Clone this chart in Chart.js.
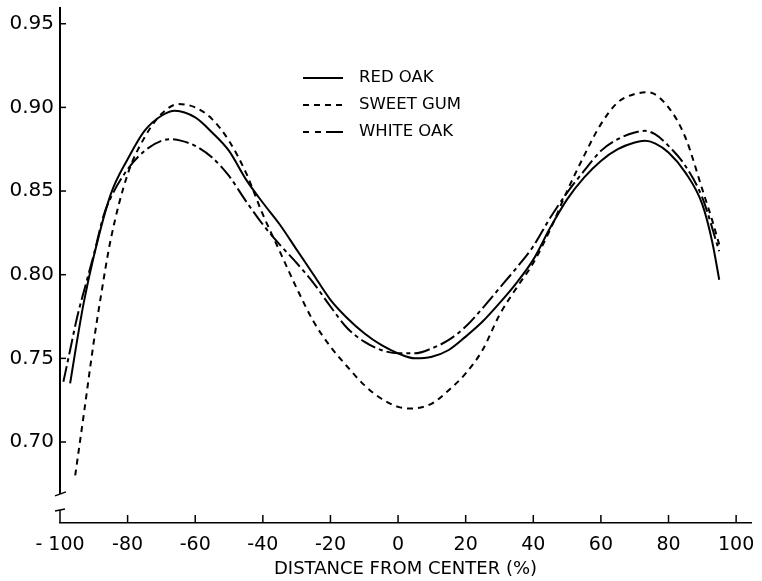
<!DOCTYPE html>
<html><head><meta charset="utf-8">
<script src="https://cdn.jsdelivr.net/npm/chart.js@4/dist/chart.umd.min.js"></script>
<style>html,body{margin:0;padding:0;background:#fff;}#wrap{width:762px;height:581px;}</style>
</head><body><div id="wrap"><canvas id="c" width="762" height="581"></canvas></div>
<script>
// ---- data ----
const seriesNames = ["RED OAK", "SWEET GUM", "WHITE OAK"];

const redOakX = [-97,-95,-93,-90,-85,-80,-75,-70,-66,-60,-55,-50,-45,-40,-35,-30,-25,-20,-15,-10,-5,0,5,10,15,20,25,30,35,40,45,50,55,60,65,70,73,76,80,85,90,93,95];
const redOakY = [0.735,0.760,0.783,0.811,0.848,0.869,0.886,0.895,0.898,0.894,0.885,0.874,0.857,0.843,0.830,0.815,0.800,0.785,0.774,0.765,0.758,0.753,0.750,0.751,0.755,0.763,0.772,0.783,0.795,0.809,0.828,0.845,0.858,0.868,0.875,0.879,0.880,0.8785,0.873,0.861,0.842,0.819,0.797];

const sweetGumX = [-95.5,-93,-90,-88,-85,-80,-75,-70,-65,-60,-55,-50,-45,-40,-35,-30,-25,-20,-15,-10,-5,0,4,10,15,20,25,30,35,40,45,50,55,60,65,70,74,80,85,90,93,95];
const sweetGumY = [0.680,0.716,0.760,0.786,0.821,0.860,0.882,0.896,0.902,0.900,0.893,0.880,0.861,0.836,0.814,0.792,0.772,0.757,0.745,0.734,0.726,0.721,0.720,0.723,0.731,0.741,0.755,0.776,0.792,0.807,0.827,0.850,0.871,0.890,0.903,0.908,0.909,0.900,0.882,0.851,0.832,0.818];

const whiteOakX = [-99,-97,-95,-92,-90,-87,-85,-80,-75,-70,-67,-64,-60,-55,-50,-45,-40,-35,-30,-25,-20,-15,-10,-5,0,5,10,15,20,25,30,35,40,45,50,55,60,65,70,73,76,80,85,90,95];
const whiteOakY = [0.736,0.755,0.774,0.797,0.812,0.836,0.846,0.863,0.874,0.880,0.881,0.880,0.877,0.870,0.859,0.844,0.830,0.818,0.807,0.795,0.781,0.768,0.760,0.755,0.753,0.753,0.756,0.761,0.769,0.780,0.792,0.804,0.817,0.834,0.849,0.862,0.874,0.881,0.885,0.886,0.884,0.877,0.865,0.846,0.814];

const xTicks = [-100,-80,-60,-40,-20,0,20,40,60,80,100];
const xTickLabels = ["- 100","-80","-60","-40","-20","0","20","40","60","80","100"];
const yTicks = [0.70,0.75,0.80,0.85,0.90,0.95];
const yTickLabels = ["0.70","0.75","0.80","0.85","0.90","0.95"];
const xTitle = "DISTANCE FROM CENTER (%)";

// ---- styles ----
const dashes = [[], [6,5], [16,4,4,4]];
const legendDashes = [[], [6,5], [6,6,6,5,17,0]];
const FONT = "'DejaVu Sans', sans-serif";

function pts(xs, ys){ return xs.map((x,i)=>({x:x, y:ys[i]})); }

const datasets = [
  {label: seriesNames[0], data: pts(redOakX, redOakY)},
  {label: seriesNames[1], data: pts(sweetGumX, sweetGumY)},
  {label: seriesNames[2], data: pts(whiteOakX, whiteOakY)}
].map((d,i)=>Object.assign(d, {
  borderColor:'#000', borderWidth:2, borderDash:dashes[i], pointRadius:0,
  fill:false, cubicInterpolationMode:'monotone'
}));

const decor = {
  id:'decor',
  afterDraw(chart){
    const ctx = chart.ctx, ca = chart.chartArea;
    const ys = chart.scales.y, xs = chart.scales.x;
    ctx.save();
    ctx.strokeStyle = '#000'; ctx.fillStyle = '#000';
    // y axis line (broken near the bottom)
    const yLow = ys.getPixelForValue(0.669);
    ctx.lineWidth = 2;
    ctx.beginPath(); ctx.moveTo(ca.left, ca.top); ctx.lineTo(ca.left, yLow); ctx.stroke();
    ctx.lineWidth = 1.5;
    ctx.beginPath(); ctx.moveTo(ca.left-5, yLow+2); ctx.lineTo(ca.left+6, yLow-2); ctx.stroke();
    // break stub on x axis
    ctx.beginPath(); ctx.moveTo(ca.left, ca.bottom); ctx.lineTo(ca.left, ca.bottom-13); ctx.stroke();
    ctx.beginPath(); ctx.moveTo(ca.left-5, ca.bottom-12); ctx.lineTo(ca.left+5, ca.bottom-14); ctx.stroke();
    // y ticks (inward)
    yTicks.forEach(v=>{ const p = ys.getPixelForValue(v);
      ctx.beginPath(); ctx.moveTo(ca.left, p); ctx.lineTo(ca.left+6, p); ctx.stroke(); });
    // x ticks (inward)
    xTicks.forEach(v=>{ if (v === -100) return; const p = xs.getPixelForValue(v);
      ctx.beginPath(); ctx.moveTo(p, ca.bottom); ctx.lineTo(p, ca.bottom-8); ctx.stroke(); });
    // legend
    const lx0 = 303, lx1 = 343, ly = [78, 105, 132];
    ctx.font = "16.5px " + FONT; ctx.textBaseline = 'middle'; ctx.textAlign = 'left';
    seriesNames.forEach((n,i)=>{
      ctx.lineWidth = 2; ctx.setLineDash(legendDashes[i]);
      ctx.beginPath(); ctx.moveTo(lx0, ly[i]); ctx.lineTo(lx1, ly[i]); ctx.stroke();
      ctx.setLineDash([]);
      ctx.fillText(n, 359, ly[i]);
    });
    ctx.restore();
  }
};

new Chart(document.getElementById('c'), {
  type:'line',
  data:{datasets},
  options:{
    responsive:false, animation:false, devicePixelRatio:1,
    layout:{padding:{left:0, right:11, top:7, bottom:0}},
    plugins:{legend:{display:false}, tooltip:{enabled:false}},
    scales:{
      x:{type:'linear', min:-100, max:104.4,
        afterBuildTicks(s){ s.ticks = xTicks.map(v=>({value:v})); },
        afterFit(s){ s.height = 58; s.paddingLeft = 0; s.paddingRight = 0; },
        grid:{display:false, drawTicks:false},
        border:{display:true, color:'#000', width:1.5},
        ticks:{padding:11, color:'#000', font:{family:FONT, size:19},
          callback(v){ const i = xTicks.indexOf(v); return i>=0 ? xTickLabels[i] : ''; }},
        title:{display:true, text:xTitle, color:'#000', font:{family:FONT, size:18}, padding:{top:0,bottom:1}}
      },
      y:{type:'linear', min:0.6516, max:0.960,
        afterBuildTicks(s){ s.ticks = yTicks.map(v=>({value:v})); },
        afterFit(s){ s.width = 60; s.paddingTop = 0; s.paddingBottom = 0; },
        grid:{display:false, drawTicks:false},
        border:{display:false},
        ticks:{padding:6, color:'#000', font:{family:FONT, size:20},
          callback(v){ const i = yTicks.findIndex(t=>Math.abs(t-v)<1e-6); return i>=0 ? yTickLabels[i] : ''; }}
      }
    }
  },
  plugins:[decor]
});
</script></body></html>
